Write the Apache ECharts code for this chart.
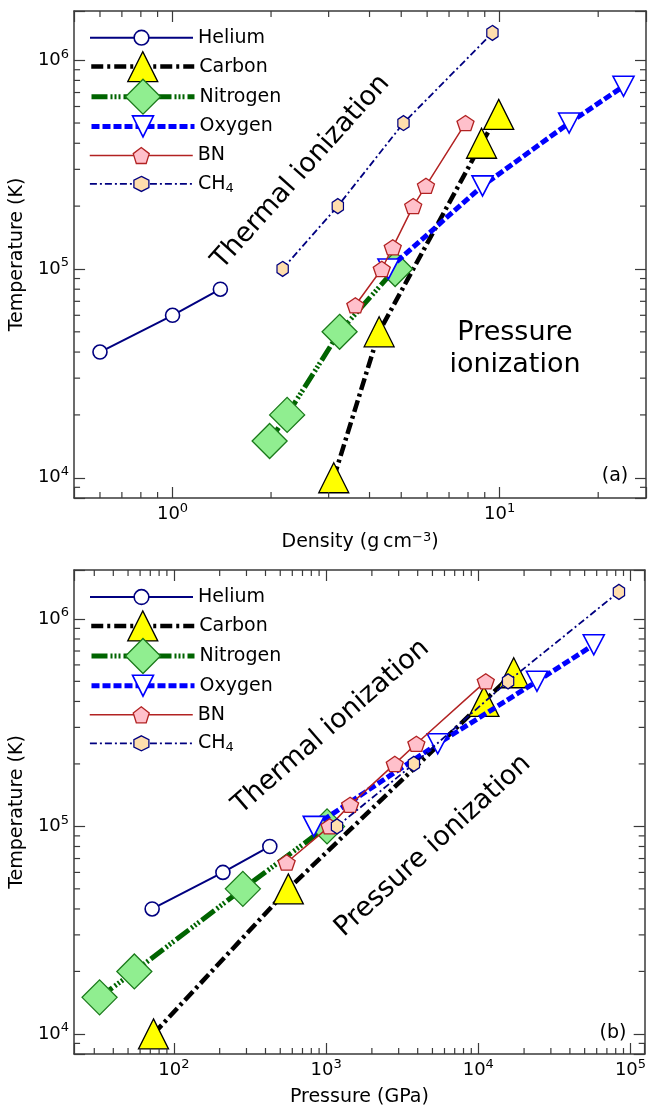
<!DOCTYPE html>
<html><head><meta charset="utf-8">
<script src="https://cdn.jsdelivr.net/npm/echarts@6/dist/echarts.min.js"></script>
<style>html,body{margin:0;padding:0;background:#fff}#c{width:649px;height:1108px}</style>
</head><body><div id="c"></div>
<script>
// ---------------- data ----------------
const seriesNames = ['Helium', 'Carbon', 'Nitrogen', 'Oxygen', 'BN', 'CH4'];
// temperatures (K), same points in both panels
const heliumT   = [4e4, 6e4, 8e4];
const carbonT   = [1e4, 5e4, 4e5, 5.5e5];
const nitrogenT = [1.5e4, 2e4, 5e4, 1e5];
const oxygenT   = [1e5, 2.5e5, 5e5, 7.5e5];
const bnT       = [6.7e4, 1e5, 1.27e5, 2e5, 2.5e5, 5e5];
const ch4T      = [1e5, 2e5, 5e5, 1.35e6];
// panel (a): density (g/cm^3)
const heliumRho   = [0.6, 1.0, 1.4];
const carbonRho   = [3.11, 4.28, 8.8, 9.93];
const nitrogenRho = [1.98, 2.24, 3.24, 4.79];
const oxygenRho   = [4.57, 8.86, 16.3, 23.9];
const bnRho       = [3.62, 4.36, 4.71, 5.44, 5.95, 7.86];
const ch4Rho      = [2.17, 3.20, 5.08, 9.50];
// panel (b): pressure (GPa)
const heliumP   = [72, 210, 427];
const carbonP   = [73.5, 565, 10900, 17100];
const nitrogenP = [32.5, 55, 284, 1015];
const oxygenP   = [830, 5415, 24300, 57400];
const bnP       = [551, 1055, 1439, 2828, 3920, 11200];
const ch4P      = [1180, 3776, 15700, 84000];
// axis ranges and minor tick values
const densityRange  = [0.5, 28];
const pressureRange = [22.1, 124000];
const tempRange     = [8000, 1720000];
const densityMinor  = [0.6, 0.7, 0.8, 0.9, 2, 3, 4, 5, 6, 7, 8, 9, 20];
const pressureMinor = [30, 40, 50, 60, 70, 80, 90, 200, 300, 400, 500, 600, 700, 800, 900,
  2000, 3000, 4000, 5000, 6000, 7000, 8000, 9000, 20000, 30000, 40000, 50000, 60000, 70000, 80000, 90000];
const tempMinor = [9000, 20000, 30000, 40000, 50000, 60000, 70000, 80000, 90000,
  200000, 300000, 400000, 500000, 600000, 700000, 800000, 900000];

// ---------------- styles ----------------
const FONT = 'DejaVu Sans';
const AX = '#3a3a3a';
const TRI = 'path://M1,0 L2,2 L0,2 Z';
const TRID = 'path://M0,0 L2,0 L1,2 Z';
const PENT = 'path://M0.951,0 L1.902,0.691 L1.539,1.809 L0.363,1.809 L0,0.691 Z';
const HEX = 'path://M0.866,0 L1.732,0.5 L1.732,1.5 L0.866,2 L0,1.5 L0,0.5 Z';
const styles = {
  Helium:   {color:'#000080', width:2,   dash:'solid', symbol:'circle', size:[14,14], fill:'#ffffff', edge:'#000080', bw:1.6, lh:14.7, off:0.7},
  Carbon:   {color:'#000000', width:4.5, dash:[12,4,3,4], symbol:TRI, size:[30,30], fill:'#ffff00', edge:'#000000', bw:1.3, lh:30, off:4},
  Nitrogen: {color:'#006400', width:5,   dash:[16,3,2,2,2,2,2,3], symbol:'diamond', size:[35,35], fill:'#90ee90', edge:'#1a7a1a', bw:1.3, lh:35, off:4.7},
  Oxygen:   {color:'#0000ff', width:5,   dash:[8,3], symbol:TRID, size:[21,20], fill:'#ffffff', edge:'#0000ff', bw:1.6, lh:21, off:3.5},
  BN:       {color:'#b22222', width:1.5, dash:'solid', symbol:PENT, size:[17,16], fill:'#ffc0cb', edge:'#b22222', bw:1.3, lh:16, off:2},
  CH4:      {color:'#000080', width:1.8, dash:[7,3,2,3], symbol:HEX, size:[13,15], fill:'#ffdead', edge:'#000080', bw:1.3, lh:15, off:0.5}
};
const temps = {Helium:heliumT, Carbon:carbonT, Nitrogen:nitrogenT, Oxygen:oxygenT, BN:bnT, CH4:ch4T};
const rhos = {Helium:heliumRho, Carbon:carbonRho, Nitrogen:nitrogenRho, Oxygen:oxygenRho, BN:bnRho, CH4:ch4Rho};
const press = {Helium:heliumP, Carbon:carbonP, Nitrogen:nitrogenP, Oxygen:oxygenP, BN:bnP, CH4:ch4P};

function decadeLabel(v) {
  const e = Math.log10(v), r = Math.round(e);
  if (Math.abs(e - r) > 1e-6) return '';
  return '{b|10}{sup|' + r + '}';
}
const labelRich = {
  b: {fontSize: 18, fontFamily: FONT, color: '#000'},
  sup: {fontSize: 13, fontFamily: FONT, color: '#000', padding: [0, 0, 12, 0]}
};

function xAxes(range, gridIndex, name, gap) {
  return [
    {type:'log', logBase:10, gridIndex, min:range[0], max:range[1], position:'bottom',
     name, nameLocation:'middle', nameGap:gap,
     nameTextStyle:{fontSize:19, fontFamily:FONT, color:'#000',
       rich:{sup:{fontSize:13, fontFamily:FONT, color:'#000', padding:[0,0,10,0]}}},
     axisLine:{show:true, onZero:false, lineStyle:{color:AX, width:1.5}},
     axisTick:{show:true, inside:true, length:11, lineStyle:{color:AX, width:1.2}},
     axisLabel:{show:true, margin:4, formatter:decadeLabel, rich:labelRich, showMinLabel:true, showMaxLabel:true},
     splitLine:{show:false}, minorTick:{show:false}},
    {type:'log', logBase:10, gridIndex, min:range[0], max:range[1], position:'top',
     axisLine:{show:true, onZero:false, lineStyle:{color:AX, width:1.5}},
     axisTick:{show:true, inside:true, length:11, lineStyle:{color:AX, width:1.2}},
     axisLabel:{show:false}, splitLine:{show:false}}
  ];
}
function yAxes(gridIndex) {
  return [
    {type:'log', logBase:10, gridIndex, min:tempRange[0], max:tempRange[1], position:'left',
     name:'Temperature (K)', nameLocation:'middle', nameGap:42,
     nameTextStyle:{fontSize:19, fontFamily:FONT, color:'#000'},
     axisLine:{show:true, onZero:false, lineStyle:{color:AX, width:1.5}},
     axisTick:{show:true, inside:true, length:11, lineStyle:{color:AX, width:1.2}},
     axisLabel:{show:true, margin:5, formatter:decadeLabel, rich:labelRich},
     splitLine:{show:false}},
    {type:'log', logBase:10, gridIndex, min:tempRange[0], max:tempRange[1], position:'right',
     axisLine:{show:true, onZero:false, lineStyle:{color:AX, width:1.5}},
     axisTick:{show:true, inside:true, length:11, lineStyle:{color:AX, width:1.2}},
     axisLabel:{show:false}, splitLine:{show:false}}
  ];
}

function makeSeries(xs, axisIdx) {
  return seriesNames.map((n, i) => {
    const s = styles[n];
    return {
      type:'line', name:n, xAxisIndex:axisIdx, yAxisIndex:axisIdx, z:2 + i,
      data: xs[n].map((x, k) => [x, temps[n][k]]),
      symbol:s.symbol, symbolSize:s.size, symbolKeepAspect:true, showSymbol:true, showAllSymbol:true,
      lineStyle:{color:s.color, width:s.width, type:s.dash},
      itemStyle:{color:s.fill, borderColor:s.edge, borderWidth:s.bw},
      emphasis:{disabled:true}, animation:false, silent:true, clip:false
    };
  });
}

const MINOR = 6;
function minorSeries(vals, dir, axisIdx, ref) {
  return {
    type:'custom', xAxisIndex:axisIdx, yAxisIndex:axisIdx, z:20, silent:true, animation:false, clip:false,
    data: vals.map(v => dir === 'x' ? [v, ref] : [ref, v]),
    renderItem: function (params, api) {
      const cs = params.coordSys;
      const p = api.coord([api.value(0), api.value(1)]);
      const st = {stroke:AX, lineWidth:1.2};
      if (dir === 'x') {
        const yb = cs.y + cs.height, yt = cs.y;
        return {type:'group', children:[
          {type:'line', shape:{x1:p[0], y1:yb, x2:p[0], y2:yb - MINOR}, style:st},
          {type:'line', shape:{x1:p[0], y1:yt, x2:p[0], y2:yt + MINOR}, style:st}]};
      }
      const xl = cs.x, xr = cs.x + cs.width;
      return {type:'group', children:[
        {type:'line', shape:{x1:xl, y1:p[1], x2:xl + MINOR, y2:p[1]}, style:st},
        {type:'line', shape:{x1:xr, y1:p[1], x2:xr - MINOR, y2:p[1]}, style:st}]};
    }
  };
}

function legends(centers, left) {
  return seriesNames.map((n, i) => {
    const s = styles[n];
    const ih = s.lh / 0.8;
    return {
      data:[n], left:left, top:centers[i] - ih / 2 + s.off, padding:0, itemGap:0,
      itemWidth:103, itemHeight:ih, selectedMode:false, orient:'vertical',
      lineStyle:{color:s.color, width:s.width, type:s.dash},
      itemStyle:{color:s.fill, borderColor:s.edge, borderWidth:s.bw},
      formatter: name => name === 'CH4' ? 'CH{sub|4}' : name,
      textStyle:{fontSize:19, fontFamily:FONT, color:'#000',
        rich:{sub:{fontSize:13, fontFamily:FONT, color:'#000', padding:[9,0,0,0]}}}
    };
  });
}

const txt = (x, y, rot, text, size, extra) => ({
  type:'text', x, y, rotation: rot * Math.PI / 180, z:30,
  style:Object.assign({text, fontSize:size, fontFamily:FONT, fill:'#000', align:'center', verticalAlign:'middle'}, extra || {})
});

const option = {
  animation:false,
  backgroundColor:'#fff',
  grid:[
    {left:72, top:11, width:576, height:487},
    {left:72, top:570, width:576, height:486}
  ],
  xAxis:[].concat(xAxes(densityRange, 0, 'Density (g\u2009cm{sup|\u22123})', 33),
                  xAxes(pressureRange, 1, 'Pressure (GPa)', 34)),
  yAxis:[].concat(yAxes(0), yAxes(1)),
  legend:[].concat(legends([36.7, 65.7, 95.7, 124.7, 154, 183.3], 89),
                   legends([596, 625, 655, 684, 713.3, 742.7], 89)),
  series:[].concat(
    makeSeries(rhos, 0), makeSeries(press, 2),
    [minorSeries(densityMinor, 'x', 0, 1e5), minorSeries(tempMinor, 'y', 0, 1),
     minorSeries(pressureMinor, 'x', 2, 1e5), minorSeries(tempMinor, 'y', 2, 1000)]
  ),
  graphic:[
    txt(301, 172, 48, 'Thermal ionization', 27),
    txt(515, 349, 0, 'Pressure\nionization', 27, {lineHeight:32}),
    txt(615, 476, 0, '(a)', 19),
    txt(331, 727, 41, 'Thermal ionization', 27),
    txt(433, 846, 42.5, 'Pressure ionization', 27),
    txt(613, 1033, 0, '(b)', 19)
  ]
};
const chart = echarts.init(document.getElementById('c'), null, {renderer:'canvas'});
chart.setOption(option);
</script></body></html>
